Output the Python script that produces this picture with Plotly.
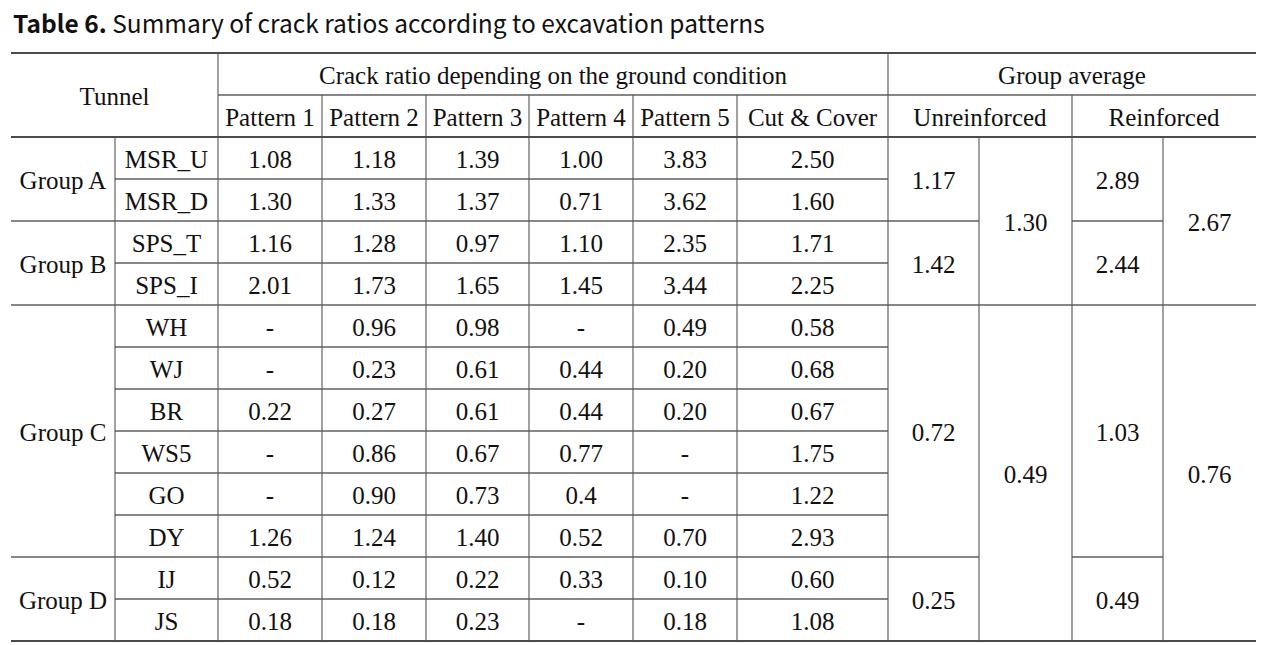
import plotly.graph_objects as go

# ---------------- data ----------------
groups = ["Group A", "Group B", "Group C", "Group D"]
group_sizes = [2, 2, 6, 2]
tunnels = ["MSR_U", "MSR_D", "SPS_T", "SPS_I", "WH", "WJ", "BR", "WS5", "GO", "DY", "IJ", "JS"]

pattern_names = ["Pattern 1", "Pattern 2", "Pattern 3", "Pattern 4", "Pattern 5", "Cut & Cover"]
pattern_1 = ["1.08", "1.30", "1.16", "2.01", "-", "-", "0.22", "-", "-", "1.26", "0.52", "0.18"]
pattern_2 = ["1.18", "1.33", "1.28", "1.73", "0.96", "0.23", "0.27", "0.86", "0.90", "1.24", "0.12", "0.18"]
pattern_3 = ["1.39", "1.37", "0.97", "1.65", "0.98", "0.61", "0.61", "0.67", "0.73", "1.40", "0.22", "0.23"]
pattern_4 = ["1.00", "0.71", "1.10", "1.45", "-", "0.44", "0.44", "0.77", "0.4", "0.52", "0.33", "-"]
pattern_5 = ["3.83", "3.62", "2.35", "3.44", "0.49", "0.20", "0.20", "-", "-", "0.70", "0.10", "0.18"]
cut_cover = ["2.50", "1.60", "1.71", "2.25", "0.58", "0.68", "0.67", "1.75", "1.22", "2.93", "0.60", "1.08"]

unreinforced_group = ["1.17", "1.42", "0.72", "0.25"]
unreinforced_overall = ["1.30", "0.49"]
reinforced_group = ["2.89", "2.44", "1.03", "0.49"]
reinforced_overall = ["2.67", "0.76"]
overall_span = [2, 2]  # number of groups covered by each overall average

header_tunnel = "Tunnel"
header_crack = "Crack ratio depending on the ground condition"
header_avg = "Group average"
header_sub = ["Unreinforced", "Reinforced"]

title_bold = "Table 6."
title_text = "Summary of crack ratios according to excavation patterns"

# ---------------- geometry (pixel-like axis units) ----------------
W, H = 1276, 645
col_edges = [11, 115, 218, 322, 426, 529, 633, 737, 888, 979, 1072, 1163, 1256]
y_top, y_mid, y_head, row_h = 53, 95, 137, 42
n_rows = len(tunnels)
row_edges = [y_head + i * row_h for i in range(n_rows + 1)]
y_bot = row_edges[-1]
text_dy = 3.5  # baseline correction for vertical centring

def cx(a, b):
    return (col_edges[a] + col_edges[b]) / 2

tx, ty, tt = [], [], []
def add(x, y, s):
    tx.append(x); ty.append(y + text_dy); tt.append(s)

# headers
add(cx(0, 2), (y_top + y_head) / 2, header_tunnel)
add(cx(2, 8), (y_top + y_mid) / 2, header_crack)
add(cx(8, 12), (y_top + y_mid) / 2, header_avg)
for j, name in enumerate(pattern_names):
    add(cx(2 + j, 3 + j), (y_mid + y_head) / 2, name)
add(cx(8, 10), (y_mid + y_head) / 2, header_sub[0])
add(cx(10, 12), (y_mid + y_head) / 2, header_sub[1])

# body rows
cols = [pattern_1, pattern_2, pattern_3, pattern_4, pattern_5, cut_cover]
for i, t in enumerate(tunnels):
    yc = (row_edges[i] + row_edges[i + 1]) / 2
    add(cx(1, 2), yc, t)
    for j, c in enumerate(cols):
        add(cx(2 + j, 3 + j), yc, c[i])

# group cells
group_start = [sum(group_sizes[:g]) for g in range(len(groups))]
for g, name in enumerate(groups):
    r0, r1 = group_start[g], group_start[g] + group_sizes[g]
    yc = (row_edges[r0] + row_edges[r1]) / 2
    add(cx(0, 1), yc, name)
    add(cx(8, 9), yc, unreinforced_group[g])
    add(cx(10, 11), yc, reinforced_group[g])

# overall cells
g0 = 0
for k, span in enumerate(overall_span):
    r0 = group_start[g0]
    r1 = group_start[g0 + span - 1] + group_sizes[g0 + span - 1]
    yc = (row_edges[r0] + row_edges[r1]) / 2
    add(cx(9, 10), yc, unreinforced_overall[k])
    add(cx(11, 12), yc, reinforced_overall[k])
    g0 += span

# ---------------- lines ----------------
shapes = []
HCOL, VCOL = "#111111", "#555555"
def hline(y, x0, x1, w=1.1):
    shapes.append(dict(type="line", xref="x", yref="y", x0=x0, x1=x1, y0=y, y1=y,
                       line=dict(color=HCOL, width=w)))
def vline(x, y0, y1, w=1.1):
    shapes.append(dict(type="line", xref="x", yref="y", x0=x, x1=x, y0=y0, y1=y1,
                       line=dict(color=VCOL, width=w)))

E = col_edges
hline(y_top, E[0], E[-1], 1.4)
hline(y_mid, E[2], E[-1])
hline(y_head, E[0], E[-1], 1.3)
hline(y_bot, E[0], E[-1], 1.4)

overall_bounds = set()
acc = 0
for span in overall_span[:-1]:
    acc += span
    overall_bounds.add(acc)
for g in range(1, len(groups)):
    y = row_edges[group_start[g]]
    if g in overall_bounds:
        hline(y, E[0], E[-1])
    else:
        hline(y, E[0], E[9])
        hline(y, E[10], E[11])
for g in range(len(groups)):
    for r in range(group_start[g] + 1, group_start[g] + group_sizes[g]):
        hline(row_edges[r], E[1], E[8])

vline(E[1], y_head, y_bot)
vline(E[2], y_top, y_bot)
for k in range(3, 8):
    vline(E[k], y_mid, y_bot)
vline(E[8], y_top, y_bot)
vline(E[10], y_mid, y_bot)
vline(E[9], y_head, y_bot)
vline(E[11], y_head, y_bot)

# ---------------- figure ----------------
fig = go.Figure(go.Scatter(
    x=tx, y=ty, text=tt, mode="text", textposition="middle center",
    textfont=dict(family="Liberation Serif, Times New Roman, Times, serif", size=25, color="#111111"),
    hoverinfo="skip", showlegend=False,
))

fig.add_annotation(
    x=11, y=22, xref="x", yref="y", xanchor="left", yanchor="middle", showarrow=False,
    text=f"<b>{title_bold}</b> {title_text}",
    font=dict(family="Noto Sans CJK KR", size=24.5, color="#111111"),
)

fig.update_layout(
    width=W, height=H, margin=dict(l=0, r=0, t=0, b=0),
    paper_bgcolor="white", plot_bgcolor="white",
    shapes=shapes,
    xaxis=dict(range=[0, W], visible=False, fixedrange=True),
    yaxis=dict(range=[H, 0], visible=False, fixedrange=True),
)

fig.write_html("out.html", config={"displayModeBar": False},
               post_script="document.body.style.margin='0';")
